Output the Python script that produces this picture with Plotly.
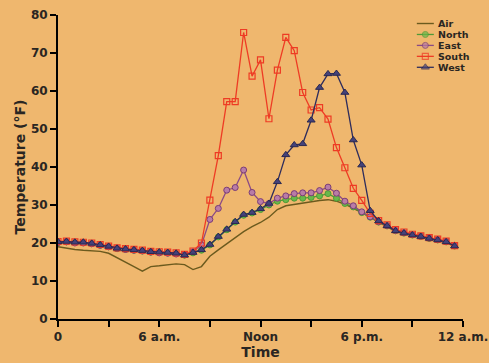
import plotly.graph_objects as go

# ---------------- data ----------------
hours = [0, 0.5, 1, 1.5, 2, 2.5, 3, 3.5, 4, 4.5, 5, 5.5, 6, 6.5, 7, 7.5,
         8, 8.5, 9, 9.5, 10, 10.5, 11, 11.5, 12, 12.5, 13, 13.5, 14, 14.5,
         15, 15.5, 16, 16.5, 17, 17.5, 18, 18.5, 19, 19.5, 20, 20.5, 21,
         21.5, 22, 22.5, 23, 23.5]

air = [19.0, 18.6, 18.3, 18.1, 18.0, 17.8, 17.3, 16.2, 15.0, 13.8, 12.6, 13.8,
       14.0, 14.2, 14.5, 14.3, 13.0, 13.8, 16.5, 18.2, 19.8, 21.3, 23.0, 24.3,
       25.4, 26.8, 28.8, 29.8, 30.2, 30.5, 30.9, 31.2, 31.4, 31.0, 30.2, 29.2,
       28.0, 26.8, 25.4, 24.3, 23.0, 22.4, 22.0, 21.6, 21.1, 20.7, 20.2, 19.0]

north = [20.2, 20.3, 20.1, 20.1, 19.8, 19.4, 19.0, 18.5, 18.3, 18.1, 17.9, 17.6,
         17.5, 17.4, 17.2, 16.8, 17.4, 18.1, 19.5, 21.6, 23.5, 25.5, 27.3, 27.9,
         28.8, 30.0, 31.0, 31.4, 31.8, 31.8, 32.0, 32.4, 33.0, 31.8, 30.4, 29.5,
         28.0, 26.8, 25.5, 24.5, 23.2, 22.6, 22.1, 21.7, 21.2, 20.8, 20.3, 19.2]

east = [20.1, 20.3, 20.0, 20.0, 19.8, 19.4, 19.0, 18.6, 18.3, 18.1, 17.9, 17.6,
        17.4, 17.3, 17.1, 16.9, 17.7, 19.5, 26.2, 29.1, 33.9, 34.6, 39.2, 33.3,
        30.9, 30.4, 31.8, 32.4, 33.0, 33.2, 33.2, 33.8, 34.7, 33.1, 31.0, 29.8,
        28.2, 26.9, 25.6, 24.6, 23.3, 22.7, 22.2, 21.8, 21.3, 20.9, 20.4, 19.4]

south = [20.4, 20.5, 20.3, 20.2, 20.0, 19.6, 19.2, 18.7, 18.5, 18.3, 18.1, 17.8,
         17.7, 17.6, 17.4, 17.0, 17.9, 20.0, 31.3, 43.0, 57.2, 57.2, 75.4, 63.9,
         68.2, 52.7, 65.5, 74.1, 70.6, 59.6, 55.0, 55.6, 52.6, 45.1, 39.8, 34.4,
         31.2, 27.8, 25.9, 24.8, 23.5, 22.9, 22.3, 21.9, 21.4, 21.0, 20.5, 19.3]

west = [20.3, 20.4, 20.2, 20.2, 19.9, 19.5, 19.1, 18.6, 18.4, 18.2, 18.0, 17.7,
        17.6, 17.5, 17.3, 16.8, 17.5, 18.2, 19.6, 21.7, 23.6, 25.6, 27.5, 28.0,
        29.0, 30.4, 36.1, 43.2, 45.8, 46.1, 52.3, 60.9, 64.5, 64.6, 59.6, 47.1,
        40.5, 28.5, 25.8, 24.5, 23.2, 22.6, 22.1, 21.7, 21.2, 20.8, 20.3, 19.2]

series_names = ["Air", "North", "East", "South", "West"]
x_tick_vals = [0, 3, 6, 9, 12, 15, 18, 21, 24]
x_tick_text = ["0", "", "6 a.m.", "", "Noon", "", "6 p.m.", "", "12 a.m."]
y_tick_vals = [0, 10, 20, 30, 40, 50, 60, 70, 80]

# ---------------- styles ----------------
BG = "rgb(239,183,110)"
TXT = "#2a2622"
FONT = "DejaVu Sans"

styles = {
    "Air":   dict(mode="lines", line=dict(color="#6b5a1e", width=1.4)),
    "North": dict(mode="lines+markers", line=dict(color="#4f9a36", width=1.3),
                  marker=dict(symbol="circle", size=6, color="#69b84a",
                              line=dict(color="#4f9a36", width=1))),
    "East":  dict(mode="lines+markers", line=dict(color="#8a4a86", width=1.3),
                  marker=dict(symbol="circle", size=6, color="#b97ca6",
                              line=dict(color="#7a3c76", width=1))),
    "South": dict(mode="lines+markers", line=dict(color="#ee3b24", width=1.3),
                  marker=dict(symbol="square-open", size=6, color="#ee3b24",
                              line=dict(color="#ee3b24", width=1.2))),
    "West":  dict(mode="lines+markers", line=dict(color="#2e2c5c", width=1.3),
                  marker=dict(symbol="triangle-up", size=7, color="#44427a",
                              line=dict(color="#2a2850", width=1))),
}
values = {"Air": air, "North": north, "East": east, "South": south, "West": west}

fig = go.Figure()
for name in series_names:
    fig.add_trace(go.Scatter(x=hours, y=values[name], name=name,
                             showlegend=False, **styles[name]))

# ---------------- custom compact legend (overlay axes in 0..1) ----------------
leg_x0, leg_x1, leg_text_x = 0.886, 0.928, 0.936
leg_y_top, leg_step = 0.972, 0.036
for i, name in enumerate(series_names):
    yy = leg_y_top - i * leg_step
    st = styles[name]
    kw = dict(mode=st["mode"], line=st["line"])
    if "marker" in st:
        m = dict(st["marker"])
        m["size"] = [0, st["marker"]["size"], 0]
        kw["marker"] = m
    fig.add_trace(go.Scatter(x=[leg_x0, (leg_x0 + leg_x1) / 2, leg_x1],
                             y=[yy, yy, yy], xaxis="x2", yaxis="y2",
                             showlegend=False, hoverinfo="skip", **kw))
    fig.add_annotation(x=leg_text_x, y=yy, xref="x2", yref="y2", text=name,
                       showarrow=False, xanchor="left", yanchor="middle",
                       borderpad=0,
                       font=dict(family=FONT, size=9.5, color=TXT, weight="bold"))

axis_common = dict(showline=True, linecolor="black", linewidth=2,
                   ticks="outside", ticklen=6, tickwidth=2, tickcolor="black",
                   showgrid=False, zeroline=False, automargin=False,
                   tickfont=dict(family=FONT, size=12, color=TXT, weight="bold"))

fig.update_layout(
    width=489, height=363,
    margin=dict(l=58, r=26, t=15, b=44),
    paper_bgcolor=BG, plot_bgcolor=BG,
    xaxis=dict(range=[0, 24], tickmode="array", tickvals=x_tick_vals,
               ticktext=x_tick_text,
               title=dict(text="Time", standoff=2,
                          font=dict(family=FONT, size=14, color=TXT, weight="bold")),
               **axis_common),
    yaxis=dict(range=[0, 80], tickmode="array", tickvals=y_tick_vals,
               title=dict(text="Temperature (°F)", standoff=2,
                          font=dict(family=FONT, size=14, color=TXT, weight="bold")),
               **axis_common),
    xaxis2=dict(overlaying="x", range=[0, 1], visible=False),
    yaxis2=dict(overlaying="y", range=[0, 1], visible=False),
    showlegend=False,
)

fig.write_html(
    "out.html",
    config={"displayModeBar": False},
    post_script="document.body.style.margin='0';document.body.style.overflow='hidden';",
)
